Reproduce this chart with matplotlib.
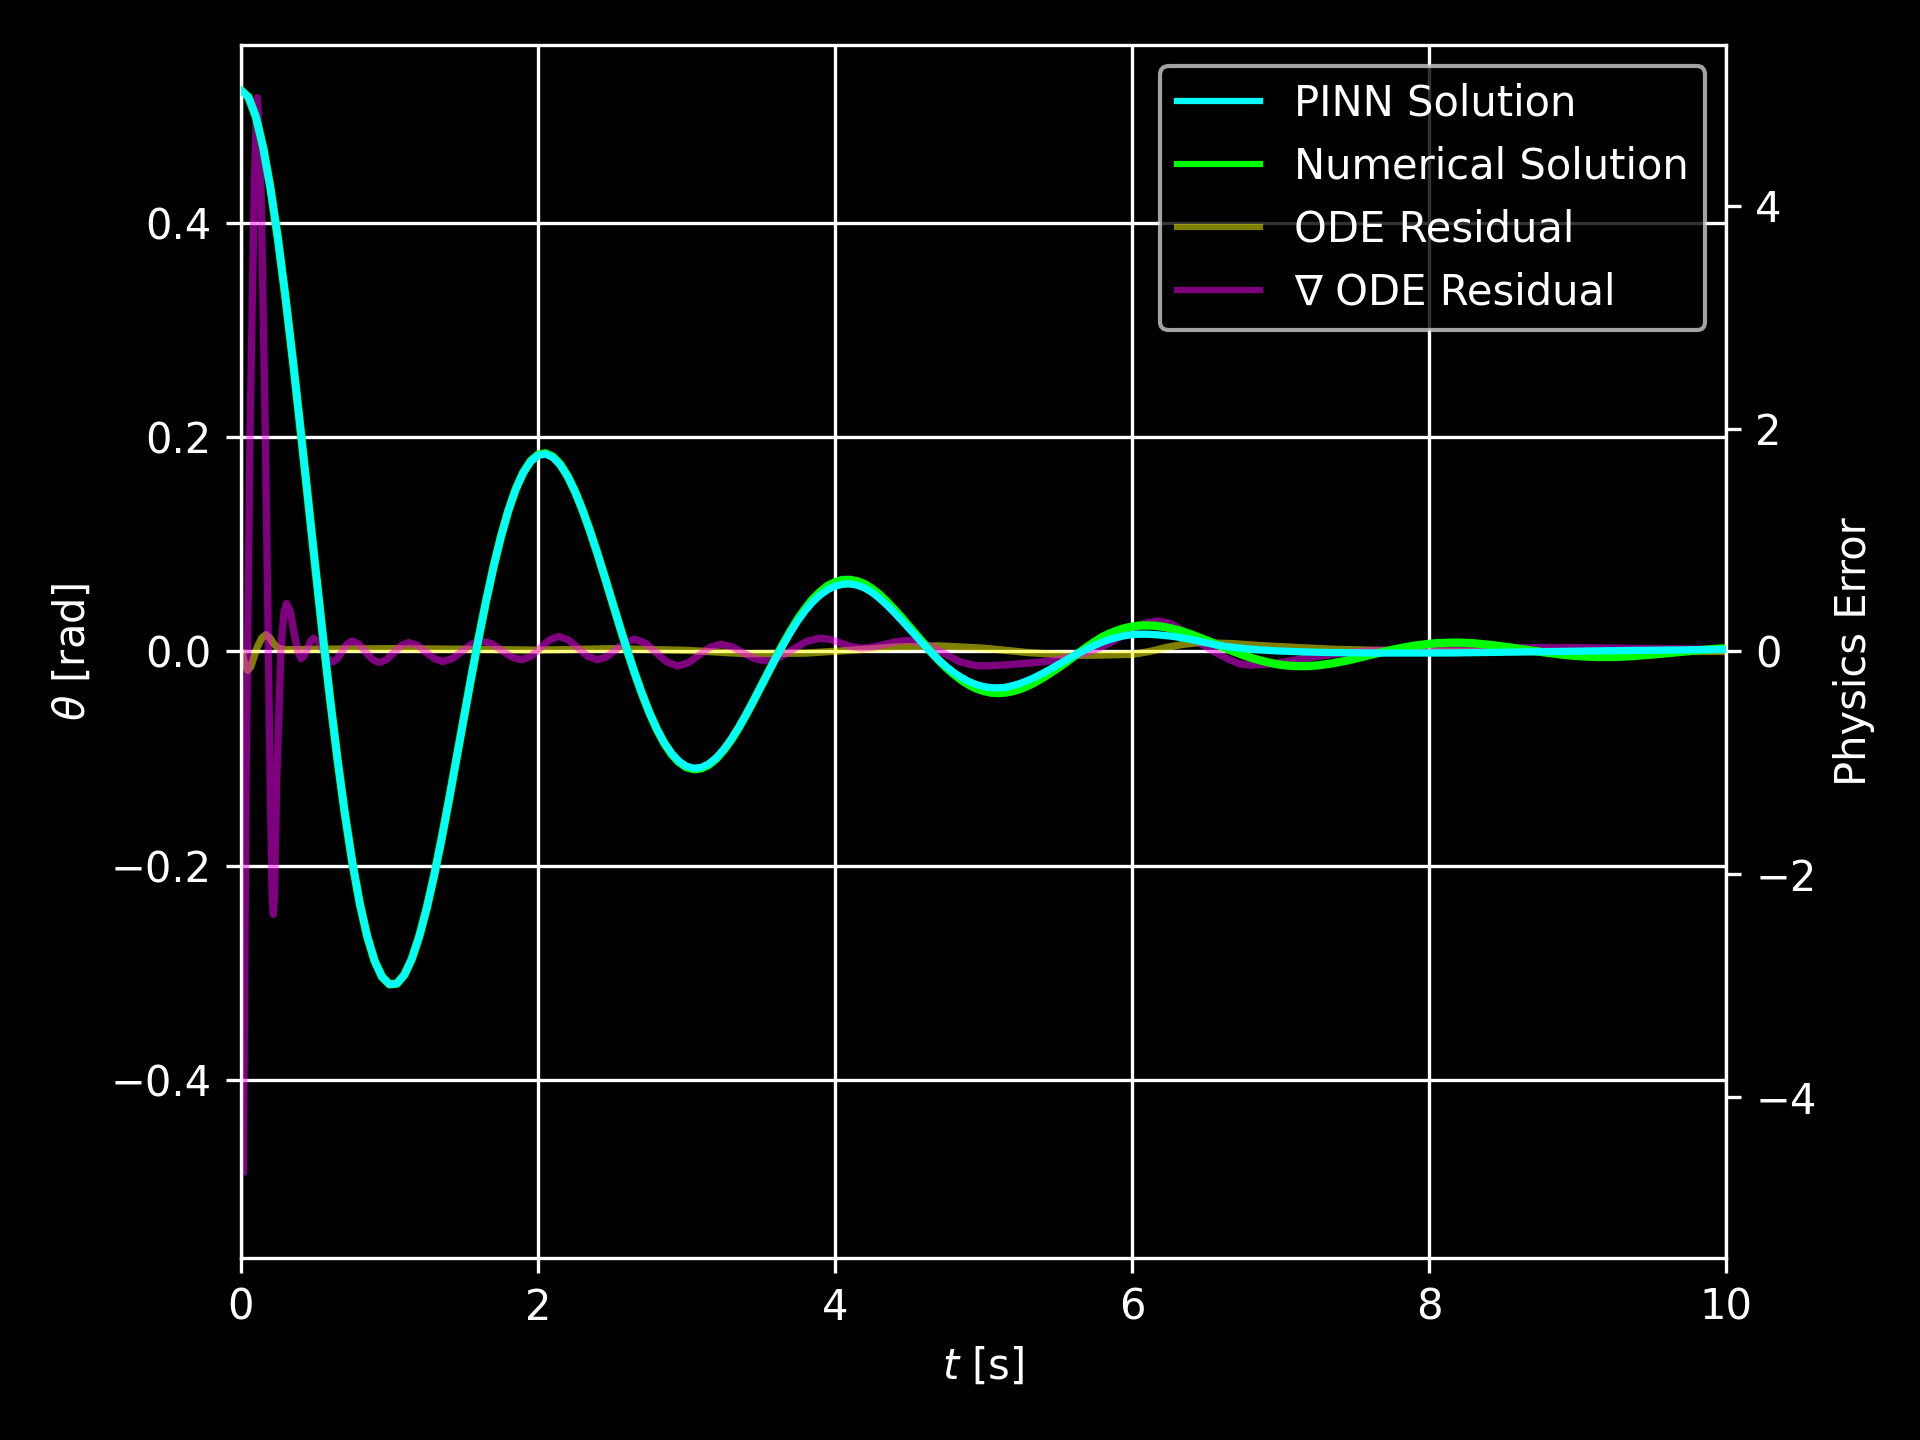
"""Damped pendulum: PINN vs numerical solution with physics residuals."""

import matplotlib

matplotlib.use("Agg")
import matplotlib.pyplot as plt
import numpy as np

# sample times of the two solutions (0 .. 10 s, step 0.05 s)
t = np.linspace(0, 10, 201)

theta_numerical = [
    0.5236, 0.5173, 0.4991, 0.4700, 0.4311, 0.3840, 0.3301, 0.2711, 0.2086, 0.1442,
    0.0797, 0.0164, -0.0441, -0.1006, -0.1518, -0.1969, -0.2351, -0.2658, -0.2887, -0.3036,
    -0.3106, -0.3099, -0.3018, -0.2870, -0.2661, -0.2400, -0.2095, -0.1755, -0.1390, -0.1011,
    -0.0627, -0.0246, 0.0121, 0.0467, 0.0785, 0.1068, 0.1312, 0.1513, 0.1667, 0.1775,
    0.1835, 0.1849, 0.1818, 0.1746, 0.1636, 0.1492, 0.1320, 0.1126, 0.0915, 0.0692,
    0.0464, 0.0236, 0.0014, -0.0197, -0.0393, -0.0570, -0.0725, -0.0855, -0.0958, -0.1033,
    -0.1080, -0.1099, -0.1091, -0.1058, -0.1001, -0.0923, -0.0828, -0.0717, -0.0595, -0.0465,
    -0.0330, -0.0194, -0.0061, 0.0068, 0.0190, 0.0303, 0.0400, 0.0488, 0.0555, 0.0612,
    0.0645, 0.0667, 0.0668, 0.0655, 0.0628, 0.0584, 0.0530, 0.0464, 0.0390, 0.0314,
    0.0232, 0.0151, 0.0070, -0.0010, -0.0084, -0.0152, -0.0213, -0.0266, -0.0310, -0.0345,
    -0.0369, -0.0384, -0.0389, -0.0384, -0.0370, -0.0349, -0.0320, -0.0285, -0.0245, -0.0201,
    -0.0155, -0.0107, -0.0055, -0.0005, 0.0045, 0.0092, 0.0135, 0.0168, 0.0195, 0.0217,
    0.0232, 0.0242, 0.0243, 0.0240, 0.0232, 0.0219, 0.0203, 0.0182, 0.0158, 0.0132,
    0.0105, 0.0076, 0.0048, 0.0019, -0.0008, -0.0035, -0.0058, -0.0079, -0.0097, -0.0112,
    -0.0124, -0.0132, -0.0136, -0.0137, -0.0135, -0.0130, -0.0121, -0.0111, -0.0098, -0.0084,
    -0.0068, -0.0051, -0.0034, -0.0018, -0.0001, 0.0015, 0.0029, 0.0042, 0.0054, 0.0063,
    0.0071, 0.0077, 0.0080, 0.0082, 0.0082, 0.0080, 0.0076, 0.0070, 0.0063, 0.0055,
    0.0046, 0.0036, 0.0026, 0.0016, 0.0006, -0.0004, -0.0013, -0.0022, -0.0030, -0.0037,
    -0.0043, -0.0047, -0.0050, -0.0052, -0.0052, -0.0051, -0.0048, -0.0045, -0.0040, -0.0035,
    -0.0029, -0.0023, -0.0016, -0.0010, -0.0003, 0.0004, 0.0010, 0.0016, 0.0021, 0.0026,
    0.0030,
]

theta_pinn = [
    0.5236, 0.5173, 0.4991, 0.4700, 0.4311, 0.3840, 0.3301, 0.2711, 0.2086, 0.1442,
    0.0797, 0.0164, -0.0441, -0.1006, -0.1518, -0.1969, -0.2351, -0.2658, -0.2887, -0.3036,
    -0.3106, -0.3099, -0.3018, -0.2870, -0.2661, -0.2400, -0.2095, -0.1755, -0.1390, -0.1011,
    -0.0627, -0.0246, 0.0121, 0.0467, 0.0785, 0.1068, 0.1312, 0.1513, 0.1667, 0.1772,
    0.1830, 0.1843, 0.1812, 0.1741, 0.1632, 0.1490, 0.1318, 0.1125, 0.0914, 0.0692,
    0.0464, 0.0236, 0.0014, -0.0197, -0.0393, -0.0570, -0.0722, -0.0851, -0.0952, -0.1026,
    -0.1072, -0.1090, -0.1082, -0.1049, -0.0993, -0.0916, -0.0822, -0.0712, -0.0592, -0.0463,
    -0.0330, -0.0196, -0.0066, 0.0060, 0.0180, 0.0288, 0.0382, 0.0462, 0.0527, 0.0576,
    0.0610, 0.0627, 0.0630, 0.0618, 0.0592, 0.0550, 0.0495, 0.0432, 0.0362, 0.0288,
    0.0212, 0.0136, 0.0060, -0.0013, -0.0082, -0.0142, -0.0196, -0.0242, -0.0280, -0.0308,
    -0.0328, -0.0338, -0.0340, -0.0334, -0.0318, -0.0297, -0.0270, -0.0238, -0.0203, -0.0165,
    -0.0125, -0.0085, -0.0045, -0.0008, 0.0025, 0.0058, 0.0088, 0.0112, 0.0132, 0.0147,
    0.0157, 0.0161, 0.0161, 0.0158, 0.0152, 0.0145, 0.0136, 0.0124, 0.0111, 0.0096,
    0.0080, 0.0066, 0.0053, 0.0043, 0.0035, 0.0028, 0.0021, 0.0016, 0.0011, 0.0007,
    0.0004, 0.0001, -0.0002, -0.0004, -0.0006, -0.0008, -0.0009, -0.0010, -0.0011, -0.0012,
    -0.0013, -0.0014, -0.0014, -0.0015, -0.0015, -0.0016, -0.0016, -0.0016, -0.0016, -0.0016,
    -0.0015, -0.0015, -0.0014, -0.0014, -0.0013, -0.0013, -0.0012, -0.0011, -0.0010, -0.0009,
    -0.0008, -0.0007, -0.0006, -0.0005, -0.0004, -0.0003, -0.0002, -0.0001, 0.0000, 0.0001,
    0.0002, 0.0003, 0.0004, 0.0005, 0.0006, 0.0007, 0.0008, 0.0009, 0.0010, 0.0010,
    0.0011, 0.0012, 0.0013, 0.0013, 0.0014, 0.0015, 0.0016, 0.0016, 0.0017, 0.0018,
    0.0019,
]

# ODE residual (right axis)
t_ode = [0.011, 0.025, 0.045, 0.065, 0.085, 0.11, 0.14, 0.168, 0.195, 0.22,
         0.25, 0.30, 0.5, 1.0, 1.5, 2.0, 2.5, 3.0, 3.4, 3.8,
         4.1, 4.4, 4.7, 5.0, 5.3, 5.6, 5.785, 6.01, 6.12, 6.23,
         6.35, 6.46, 6.68, 6.9, 7.35, 7.8, 8.5, 10.0]
ode_residual = [-0.02, -0.11, -0.17, -0.14, -0.06, 0.04, 0.12, 0.15, 0.12, 0.07,
                0.03, 0.015, 0.02, 0.025, 0.02, 0.012, 0.025, 0.01, -0.02, -0.015,
                0.01, 0.04, 0.05, 0.03, -0.01, -0.035, -0.033, -0.025, 0.0, 0.036,
                0.065, 0.08, 0.07, 0.05, 0.02, 0.005, 0.0, 0.0]

# gradient of the ODE residual (right axis)
t_grad = [
    0.016, 0.034, 0.061, 0.090, 0.104, 0.110, 0.117, 0.135, 0.164, 0.184,
    0.197, 0.210, 0.218, 0.226, 0.240, 0.270, 0.290, 0.307, 0.332, 0.356,
    0.381, 0.405, 0.426, 0.448, 0.469, 0.490, 0.521, 0.553, 0.584, 0.615,
    0.648, 0.682, 0.715, 0.748, 0.794, 0.839, 0.885, 0.930, 0.980, 1.030,
    1.080, 1.130, 1.188, 1.245, 1.303, 1.360, 1.425, 1.490, 1.555, 1.620,
    1.688, 1.755, 1.823, 1.890, 1.953, 2.015, 2.078, 2.140, 2.205, 2.270,
    2.335, 2.400, 2.463, 2.525, 2.588, 2.650, 2.723, 2.795, 2.868, 2.940,
    3.013, 3.085, 3.158, 3.230, 3.305, 3.380, 3.455, 3.530, 3.623, 3.715,
    3.808, 3.900, 3.970, 4.040, 4.110, 4.180, 4.260, 4.340, 4.420, 4.500,
    4.615, 4.730, 4.845, 4.960, 5.05, 5.15, 5.25, 5.35, 5.45, 5.55,
    5.65, 5.72, 5.785, 5.85, 5.92, 6.0, 6.08, 6.17, 6.26, 6.35,
    6.45, 6.55, 6.65, 6.72, 6.8, 6.9, 7.0, 7.13, 7.3, 7.45,
    7.58, 7.8, 8.2, 8.5, 9.0, 9.5, 10.0,
]
grad_residual = [
    -4.67, -1.22, 1.96, 4.18, 4.85, 4.97, 4.85, 4.18, 1.96, 0.06,
    -1.20, -2.20, -2.36, -2.20, -1.20, 0.05, 0.35, 0.43, 0.36, 0.18,
    0.01, -0.065, -0.038, 0.028, 0.093, 0.12, 0.089, 0.013, -0.064, -0.095,
    -0.067, 0.0, 0.067, 0.095, 0.067, -0.003, -0.072, -0.10, -0.074, -0.01,
    0.054, 0.08, 0.055, -0.005, -0.065, -0.09, -0.063, 0.003, 0.068, 0.095,
    0.070, 0.01, -0.050, -0.075, -0.044, 0.03, 0.104, 0.135, 0.104, 0.03,
    -0.044, -0.075, -0.048, 0.018, 0.083, 0.11, 0.075, -0.01, -0.095, -0.13,
    -0.102, -0.033, 0.037, 0.065, 0.043, -0.01, -0.063, -0.085, -0.055, 0.018,
    0.090, 0.12, 0.107, 0.075, 0.043, 0.03, 0.040, 0.065, 0.090, 0.10,
    0.066, -0.015, -0.096, -0.13, -0.128, -0.12, -0.11, -0.10, -0.085, -0.06,
    -0.03, 0.0, 0.036, 0.075, 0.13, 0.19, 0.25, 0.275, 0.25, 0.18,
    0.08, 0.0, -0.07, -0.11, -0.123, -0.115, -0.10, -0.069, -0.035, -0.01,
    0.005, 0.02, 0.03, 0.035, 0.035, 0.025, 0.02,
]

plt.style.use("dark_background")

fig = plt.figure(figsize=(6.4, 4.8), dpi=300)
rect = [0.1255, 0.1267, 0.7735, 0.8418]

# bottom layer: grid only, so the residual curves sit above it
ax_grid = fig.add_axes(rect)
# middle layer: residuals on the right axis
ax2 = fig.add_axes(rect, sharex=ax_grid)
# top layer: angle on the left axis
ax1 = fig.add_axes(rect, sharex=ax_grid)
ax2.patch.set_visible(False)
ax1.patch.set_visible(False)

theta_lim = (-0.5655, 0.5655)
err_lim = (-5.44, 5.44)

ax1.plot(t, theta_numerical, color="lime", lw=2.0, label="Numerical Solution", zorder=2)
ax1.plot(t, theta_pinn, color="cyan", lw=1.75, label="PINN Solution", zorder=3)
ax2.plot(t_ode, ode_residual, color="yellow", alpha=0.5, lw=1.75, label="ODE Residual")
ax2.plot(t_grad, grad_residual, color="magenta", alpha=0.5, lw=1.75,
         label="\u2207 ODE Residual")

ax1.set_xlim(0, 10)
ax1.set_ylim(*theta_lim)
ax1.set_xticks([0, 2, 4, 6, 8, 10])
ax1.set_yticks([-0.4, -0.2, 0.0, 0.2, 0.4])
ax1.set_xlabel("$t$ [s]")
ax1.set_ylabel(r"$\theta$ [rad]")

ax2.set_ylim(*err_lim)
ax2.set_yticks([-4, -2, 0, 2, 4])
ax2.yaxis.tick_right()
ax2.yaxis.set_label_position("right")
ax2.set_ylabel("Physics Error")
ax2.tick_params(axis="x", bottom=False, labelbottom=False)
for s in ax2.spines.values():
    s.set_visible(False)

ax_grid.set_ylim(*theta_lim)
ax_grid.set_yticks(ax1.get_yticks())
ax_grid.grid(True, color="white", lw=0.8)
ax_grid.tick_params(left=False, bottom=False, labelleft=False, labelbottom=False)
for s in ax_grid.spines.values():
    s.set_visible(False)

h1, l1 = ax1.get_legend_handles_labels()
h2, l2 = ax2.get_legend_handles_labels()
handles = [h1[1], h1[0]] + h2
labels = [l1[1], l1[0]] + l2
leg = ax1.legend(handles, labels, loc="upper right")
for line in leg.get_lines():
    line.set_linewidth(1.5)

fig.savefig("out.png", dpi=300)
